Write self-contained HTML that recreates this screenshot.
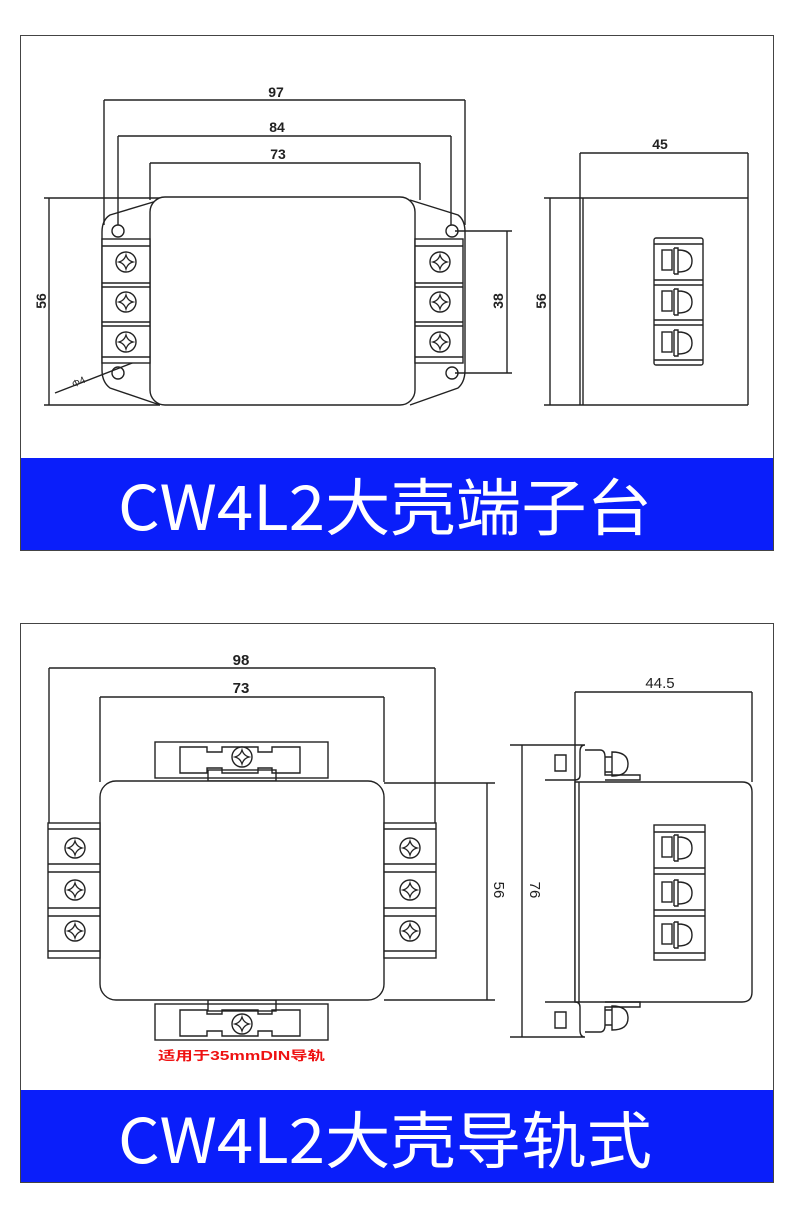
<!DOCTYPE html>
<html><head><meta charset="utf-8"><style>
html,body{margin:0;padding:0;background:#fff;}
svg{display:block;}
</style></head><body>
<svg width="790" height="1219" viewBox="0 0 790 1219" xmlns="http://www.w3.org/2000/svg" font-family="Liberation Sans, sans-serif">
<defs>
<g id="scr">
<circle r="10" fill="#fff" stroke="#222" stroke-width="1.4"/>
<path d="M0,-7 Q1.5,-1.5 7,0 Q1.5,1.5 0,7 Q-1.5,1.5 -7,0 Q-1.5,-1.5 0,-7Z" fill="none" stroke="#222" stroke-width="1.3"/>
</g>
<g id="sm" fill="none" stroke="#222" stroke-width="1.4">
<rect x="8" y="12" width="10" height="20"/>
<path d="M20,10V36M20,10h4v26h-4M24,12q14,0 14,11q0,11 -14,11"/>
</g>
</defs>

<!-- top panel -->
<rect x="20.5" y="35.5" width="753" height="515" fill="#fff" stroke="#444" stroke-width="1"/>
<rect x="21" y="458" width="752" height="92" fill="#0A1EFA"/>
<text x="118" y="530" fill="#fff" font-size="62" font-family="Noto Sans CJK SC, sans-serif" textLength="534" lengthAdjust="spacingAndGlyphs">CW4L2大壳端子台</text>

<g fill="none" stroke="#222" stroke-width="1.4">
 <path d="M104,100H465M104,100V225M465,100V225"/>
 <path d="M118,136H451M118,136V225M451,136V225"/>
 <path d="M150,163H420M150,163V200M420,163V200"/>
 <path d="M49,198V405M44,198H160M44,405H160"/>
 <path d="M507,231V373M455,231H512M455,373H512"/>
 <path d="M55,393L140,360"/>
 <path d="M160,200L110,215Q102,220 102,232V370Q102,382 110,388L160,405"/>
 <path d="M410,200L458,215Q465,220 465,232V370Q465,382 458,388L410,405"/>
 <circle cx="118" cy="231" r="6"/><circle cx="118" cy="373" r="6"/>
 <circle cx="452" cy="231" r="6"/><circle cx="452" cy="373" r="6"/>
 <rect x="150" y="197" width="265" height="208" rx="15" fill="#fff"/>
</g>
<g fill="none" stroke="#222" stroke-width="1.4">
 <rect x="102" y="239" width="48" height="124" fill="#fff"/>
 <path d="M102,246H150M102,283H150M102,287H150M102,322H150M102,326H150M102,357H150"/>
 <rect x="415" y="239" width="48" height="124" fill="#fff"/>
 <path d="M415,246H463M415,283H463M415,287H463M415,322H463M415,326H463M415,357H463"/>
</g>
<use href="#scr" x="126" y="262"/><use href="#scr" x="126" y="302"/><use href="#scr" x="126" y="342"/>
<use href="#scr" x="440" y="262"/><use href="#scr" x="440" y="302"/><use href="#scr" x="440" y="342"/>
<g font-size="14" font-weight="bold" fill="#222" text-anchor="middle">
<text x="276" y="97">97</text><text x="277" y="132">84</text><text x="278" y="159">73</text>
<text x="660" y="149">45</text>
<text transform="translate(46,301) rotate(-90)">56</text>
<text transform="translate(503,301) rotate(-90)">38</text>
<text transform="translate(546,301) rotate(-90)">56</text>
<text transform="translate(80,385) rotate(-25)" font-size="10" font-weight="normal">Φ4</text>
</g>
<g fill="none" stroke="#222" stroke-width="1.4">
 <path d="M580,153H748M580,153V405M748,153V405"/>
 <path d="M544,198H748M544,405H748M550,198V405M583,198V405"/>
 <rect x="654" y="238" width="49" height="127" rx="2"/>
 <path d="M654,244H703M654,280H703M654,285H703M654,320H703M654,325H703M654,360H703"/>
</g>
<use href="#sm" x="654" y="238"/><use href="#sm" x="654" y="279"/><use href="#sm" x="654" y="320"/>

<!-- bottom panel -->
<rect x="20.5" y="623.5" width="753" height="559" fill="#fff" stroke="#444" stroke-width="1"/>
<rect x="21" y="1090" width="752" height="92" fill="#0A1EFA"/>
<text x="118" y="1163" fill="#fff" font-size="62" font-family="Noto Sans CJK SC, sans-serif" textLength="534" lengthAdjust="spacingAndGlyphs">CW4L2大壳导轨式</text>

<g fill="none" stroke="#222" stroke-width="1.4">
 <path d="M49,668H435M49,668V825M435,668V825"/>
 <path d="M100,697H384M100,697V782M384,697V782"/>
 <path d="M487,783V1000M384,783H495M384,1000H495"/>
 <rect x="155" y="742" width="173" height="36"/>
 <path d="M180,747H207V752H222V747H258V752H272V747H300V773H272V768H258V773H222V768H207V773H180Z"/>
 <rect x="208" y="770" width="68" height="11"/>
 <rect x="155" y="1004" width="173" height="36"/>
 <path d="M180,1010H207V1014H222V1010H258V1014H272V1010H300V1036H272V1031H258V1036H222V1031H207V1036H180Z"/>
 <rect x="208" y="1000" width="68" height="11"/>
 <rect x="100" y="781" width="284" height="219" rx="16" fill="#fff"/>
 <rect x="48" y="823" width="52" height="135" fill="#fff"/>
 <path d="M48,829H100M48,864H100M48,872H100M48,908H100M48,916H100M48,951H100"/>
 <rect x="384" y="823" width="52" height="135" fill="#fff"/>
 <path d="M384,829H436M384,864H436M384,872H436M384,908H436M384,916H436M384,951H436"/>
</g>
<use href="#scr" x="75" y="848"/><use href="#scr" x="75" y="890"/><use href="#scr" x="75" y="931"/>
<use href="#scr" x="410" y="848"/><use href="#scr" x="410" y="890"/><use href="#scr" x="410" y="931"/>
<use href="#scr" x="242" y="757"/><use href="#scr" x="242" y="1024"/>
<text x="158" y="1060" font-size="12.5" font-weight="bold" fill="#e11" font-family="Liberation Sans, Noto Sans CJK SC, sans-serif" textLength="167" lengthAdjust="spacingAndGlyphs">适用于35mmDIN导轨</text>

<g fill="none" stroke="#222" stroke-width="1.4">
 <path d="M575,692H752M575,692V1002M752,692V782"/>
 <path d="M510,745H545M510,1037H545M522,745V1037"/>
 <path d="M575,782H742Q752,782 752,792V992Q752,1002 742,1002H575Z" fill="#fff"/>
 <path d="M579,782V1002"/>
 <path d="M545,745H585Q580,745 580,752V775Q580,780 575,780H545M555,755H566V771H555Z"/>
 <path d="M585,750H600Q605,750 605,757V775H640V780H605"/>
 <path d="M605,757H612V772H605M612,752Q628,752 628,764Q628,776 612,776Z"/>
 <path d="M545,1037H585Q580,1037 580,1030V1007Q580,1002 575,1002H545M555,1012H566V1028H555Z"/>
 <path d="M585,1032H600Q605,1032 605,1025V1007H640V1002H605"/>
 <path d="M605,1010H612V1025H605M612,1006Q628,1006 628,1018Q628,1030 612,1030Z"/>
 <rect x="654" y="825" width="51" height="135"/>
 <path d="M654,832H705M654,868H705M654,874H705M654,910H705M654,916H705M654,953H705"/>
</g>
<use href="#sm" x="654" y="825"/><use href="#sm" x="654" y="870"/><use href="#sm" x="654" y="912"/>
<g font-size="15" font-weight="bold" fill="#222" text-anchor="middle">
<text x="241" y="665">98</text><text x="241" y="693">73</text><text x="660" y="688" font-weight="normal">44.5</text>
<text transform="translate(494,890) rotate(90)" font-weight="normal">56</text>
<text transform="translate(530,890) rotate(90)" font-weight="normal">76</text>
</g>
</svg>
</body></html>
